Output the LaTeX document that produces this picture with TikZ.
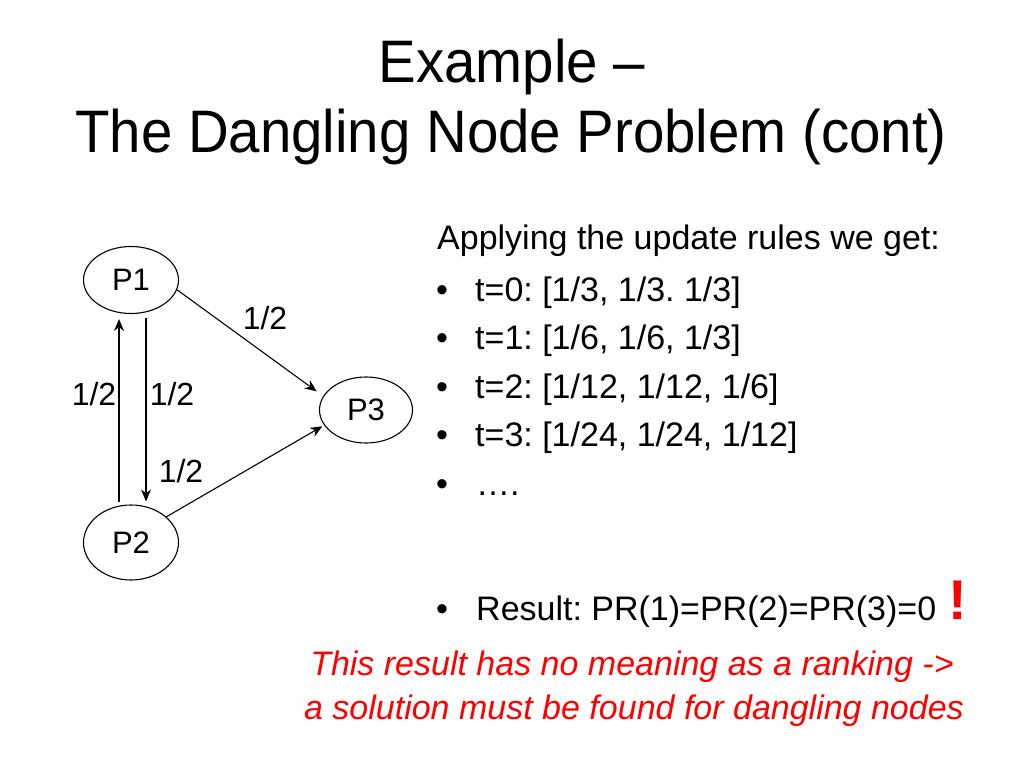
\documentclass[tikz,border=0pt]{standalone}
\usepackage{fontspec}
\usepackage{graphicx}
\setmainfont{Liberation Sans}
\usetikzlibrary{shapes.geometric,arrows.meta}
\definecolor{alertred}{RGB}{255,0,0}
\frenchspacing
\tikzset{
  ell/.style={draw, ellipse, minimum width=95pt, minimum height=67pt, inner sep=0pt, line width=1.1pt, font=\fontsize{31}{36}\selectfont},
  arr/.style={-{Stealth[length=12pt,width=10pt,inset=4pt]}, line width=1.1pt},
  lbl/.style={font=\fontsize{32}{38}\selectfont, anchor=base, inner sep=0pt},
  body/.style={font=\fontsize{34}{40}\selectfont, anchor=base west, inner sep=0pt},
  bul/.style={font=\fontsize{34}{40}\selectfont, anchor=base, inner sep=0pt},
  titletext/.style={font=\fontsize{60}{72}\selectfont, anchor=base, inner sep=0pt},
  redtext/.style={font=\fontsize{34}{40}\selectfont\itshape, text=alertred, anchor=base, inner sep=0pt}
}
\begin{document}
\begin{tikzpicture}[x=1pt,y=-1pt]
\fill[white] (0,0) rectangle (1024,768);
\useasboundingbox (0,0) rectangle (1024,768);
% title
\node[titletext] (t1) at (512,82) {\scalebox{0.94}[1]{Example –}};
\node[titletext] (t2) at (511,152) {\scalebox{0.94}[1]{The Dangling Node Problem (cont)}};
% graph
\node[ell] (P1) at (131,280) {P1};
\node[ell, minimum height=75pt] (P2) at (131,542.5) {P2};
\node[ell, minimum width=93pt, minimum height=66pt] (P3) at (366,410) {P3};
\draw[arr, shorten >=8pt] (P1.-12) -- (P3.162);
\draw[arr, shorten >=2pt] (P2.36) -- (P3.200);
\draw[arr, shorten <=4pt, shorten >=3pt] ([xshift=15pt]P1.south) -- ([xshift=15pt]P2.north);
\draw[arr, shorten <=2pt, shorten >=5pt] ([xshift=-12pt]P2.north) -- ([xshift=-12pt]P1.south);
\node[lbl] (l13) at (265,329) {1/2};
\node[lbl] (l21) at (94,405) {1/2};
\node[lbl] (l12) at (172,405) {1/2};
\node[lbl] (l23) at (181,482) {1/2};
% text
\node[body] (intro) at (437,249) {Applying the update rules we get:};
\node[bul] (b0) at (442,301) {•};
\node[body] (x0) at (475,301) {t=0: [1/3, 1/3. 1/3]};
\node[bul] (b1) at (442,349.5) {•};
\node[body] (x1) at (475,349.5) {t=1: [1/6, 1/6, 1/3]};
\node[bul] (b2) at (442,398) {•};
\node[body] (x2) at (475,398) {t=2: [1/12, 1/12, 1/6]};
\node[bul] (b3) at (442,446.5) {•};
\node[body] (x3) at (475,446.5) {t=3: [1/24, 1/24, 1/12]};
\node[bul] (b4) at (442,495) {•};
\node[body] (x4) at (476,495) {….};
\node[bul] (b5) at (442,620) {•};
\node[body] (x5) at (476,620) {Result: PR(1)=PR(2)=PR(3)=0};
\node[font=\fontsize{56}{60}\selectfont\bfseries, text=alertred, anchor=base, inner sep=0pt] (bang) at (958,619) {!};
\node[redtext] (r1) at (632,675) {This result has no meaning as a ranking ->};
\node[redtext] (r2) at (634,719) {a solution must be found for dangling nodes};
\end{tikzpicture}
\end{document}
